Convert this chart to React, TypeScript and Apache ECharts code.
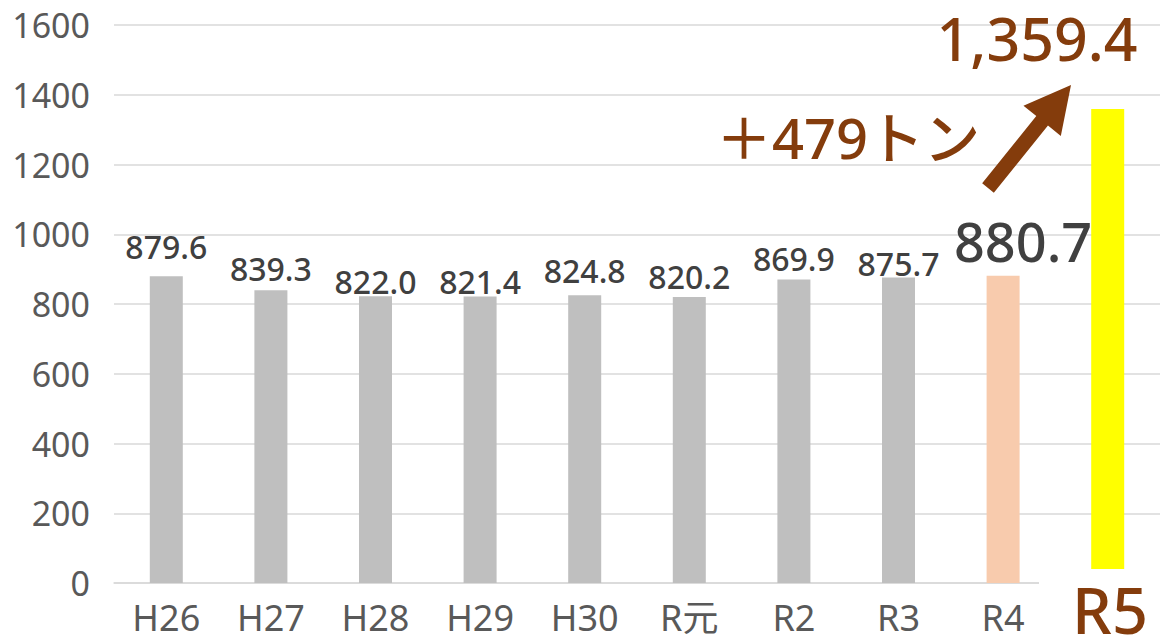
import React, { useEffect, useRef } from "react";
import * as echarts from "echarts";

const categories = ["H26", "H27", "H28", "H29", "H30", "R元", "R2", "R3", "R4", "R5"];
const values = [879.6, 839.3, 822.0, 821.4, 824.8, 820.2, 869.9, 875.7, 880.7, 1359.4];
const yTicks = { min: 0, max: 1600, interval: 200 };
const increaseText = "＋479トン";
const latestText = "1,359.4";

// label placement tweaks (style only)
const labelDistance = [14, 6, -1, -1, 9, 4, 5, -2];

const BROWN = "#843C0C";
const FONT = "'Noto Sans', 'Noto Sans CJK JP', sans-serif";

export default function App() {
  const ref = useRef<HTMLDivElement>(null);
  useEffect(() => {
    if (!ref.current) return;
    const chart = echarts.init(ref.current, undefined, { renderer: "svg" });
    const barColors = categories.map((c, i) =>
      i === categories.length - 1 ? "#FFFF00" : i === categories.length - 2 ? "#F8CBAD" : "#BFBFBF"
    );
    const data = values.map((v, i) => {
      const item: any = { value: v, itemStyle: { color: barColors[i] } };
      if (i < labelDistance.length) {
        item.label = {
          show: true,
          position: "top",
          distance: labelDistance[i],
          fontSize: 32,
          lineHeight: 32,
          fontWeight: 500,
          color: "#404040",
          fontFamily: FONT,
          formatter: (p: any) => p.value.toFixed(1),
        };
      } else if (i === categories.length - 2) {
        item.label = {
          show: true,
          position: "top",
          distance: 8,
          offset: [20, 0],
          fontSize: 54,
          lineHeight: 54,
          fontWeight: 500,
          color: "#404040",
          fontFamily: FONT,
          formatter: (p: any) => p.value.toFixed(1),
        };
      } else {
        item.label = { show: false };
      }
      return item;
    });

    // arrow geometry
    const tail = [988, 188];
    const tip = [1071, 85];
    const dx = tip[0] - tail[0];
    const dy = tip[1] - tail[1];
    const len = Math.sqrt(dx * dx + dy * dy);
    const ux = dx / len, uy = dy / len;
    const nx = -uy, ny = ux;
    const headLen = 46, headHalf = 24, shaftHalf = 7.5;
    const bx = tip[0] - ux * headLen, by = tip[1] - uy * headLen;
    const arrowPts = [
      [tail[0] + nx * shaftHalf, tail[1] + ny * shaftHalf],
      [bx + nx * shaftHalf, by + ny * shaftHalf],
      [bx + nx * headHalf, by + ny * headHalf],
      [tip[0], tip[1]],
      [bx - nx * headHalf, by - ny * headHalf],
      [bx - nx * shaftHalf, by - ny * shaftHalf],
      [tail[0] - nx * shaftHalf, tail[1] - ny * shaftHalf],
    ];

    chart.setOption({
      animation: false,
      grid: { left: 114, right: 0, top: 25, bottom: 59, containLabel: false },
      xAxis: {
        type: "category",
        data: categories,
        axisLine: { show: true, lineStyle: { color: "#D9D9D9", width: 1.5 } },
        axisTick: { show: false },
        axisLabel: {
          fontSize: 36,
          color: "#595959",
          fontFamily: FONT,
          margin: 16,
          formatter: (v: string) => (v === "R5" ? "" : v),
        },
      },
      yAxis: {
        type: "value",
        min: yTicks.min,
        max: yTicks.max,
        interval: yTicks.interval,
        axisLine: { show: false },
        axisTick: { show: false },
        splitLine: { lineStyle: { color: "#D9D9D9", width: 1.5 } },
        axisLabel: {
          fontSize: 34,
          color: "#595959",
          fontFamily: FONT,
          margin: 24,
          formatter: (v: number) => String(v),
        },
      },
      series: [
        {
          type: "bar",
          data,
          barWidth: 33,
        },
      ],
      graphic: [
        {
          type: "rect",
          z: 100,
          shape: { x: 1039, y: 569, width: 121, height: 73 },
          style: { fill: "#FFFFFF" },
        },
        {
          type: "text",
          z: 101,
          x: 1110,
          y: 609,
          style: {
            text: "R5",
            fill: BROWN,
            font: `500 63px ${FONT}`,
            lineHeight: 58,
            textAlign: "center",
            textVerticalAlign: "middle",
          },
        },
        {
          type: "text",
          z: 101,
          x: 1037,
          y: 38,
          style: {
            text: latestText,
            fill: BROWN,
            font: `500 59px ${FONT}`,
            lineHeight: 56,
            textAlign: "center",
            textVerticalAlign: "middle",
          },
        },
        {
          type: "text",
          z: 101,
          x: 848,
          y: 137,
          style: {
            text: increaseText,
            fill: BROWN,
            font: `500 56px ${FONT}`,
            textAlign: "center",
            textVerticalAlign: "middle",
          },
        },
        {
          type: "polygon",
          z: 101,
          shape: { points: arrowPts },
          style: { fill: BROWN },
        },
      ],
    });
    return () => chart.dispose();
  }, []);
  return (
    <div
      ref={ref}
      style={{ position: "absolute", left: 0, top: 0, width: 1160, height: 642 }}
    />
  );
}
